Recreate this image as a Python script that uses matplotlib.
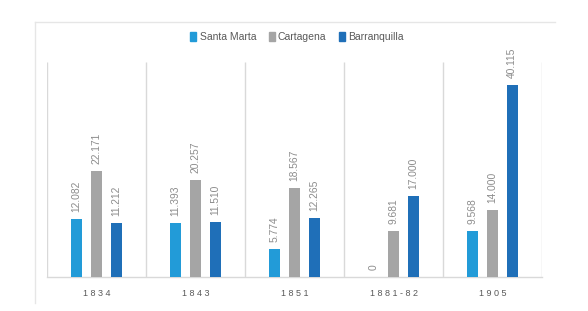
import numpy as np
import matplotlib.pyplot as plt
from matplotlib.lines import Line2D
from matplotlib.patches import Patch

# data
years = ["1834", "1843", "1851", "1881-82", "1905"]
santa_marta = [12082, 11393, 5774, 0, 9568]
cartagena = [22171, 20257, 18567, 9681, 14000]
barranquilla = [11212, 11510, 12265, 17000, 40115]

series = [("Santa Marta", santa_marta, "#229bd8"),
          ("Cartagena", cartagena, "#a5a5a5"),
          ("Barranquilla", barranquilla, "#1f6fb8")]

plt.rcParams['font.family'] = ['Liberation Sans', 'DejaVu Sans']

fig = plt.figure(figsize=(5.88, 3.11), dpi=100)
ax = fig.add_axes([47/588, 34/311, 495/588, 215/311])

x = np.arange(len(years))
width = 0.106
offsets = [-0.2, 0, 0.2]

for (name, vals, col), off in zip(series, offsets):
    bars = ax.bar(x + off, vals, width, color=col, label=name, zorder=3)
    for b, v in zip(bars, vals):
        lbl = f"{v:,}".replace(",", ".")
        ax.annotate(lbl, (b.get_x() + b.get_width()/2, b.get_height()),
                    xytext=(0, 5), textcoords="offset points",
                    rotation=90, ha="center", va="bottom",
                    fontsize=7.4, color="#8c8c8c")

ax.set_xlim(-0.5, len(years) - 0.5)
ax.set_ylim(0, 45000)

# category separators
grid_col = "#d9d9d9"
ax.vlines(np.arange(len(years) + 1) - 0.5, 0, 45000, color=grid_col, lw=1, zorder=1)
for s in ["top", "left", "right"]:
    ax.spines[s].set_visible(False)
ax.spines["bottom"].set_color(grid_col)
ax.spines["bottom"].set_linewidth(1)

ax.set_yticks([])
ax.set_xticks(x)
ax.set_xticklabels([" ".join(y) for y in years], fontsize=6.5, color="#595959")
ax.tick_params(axis="x", length=0, pad=9)

# legend
handles = [Patch(color=c, label=n) for n, _, c in series]
fig.legend(handles=handles, loc="center", bbox_to_anchor=(297/588, 1 - 37/311),
           ncol=3, frameon=False, fontsize=7.5, handlelength=0.6, handleheight=1.0,
           handletextpad=0.3, columnspacing=1.2, labelcolor="#595959")

# chart area border (top + left)
bc = "#e6e6e6"
fig.add_artist(Line2D([35/588, 555/588], [1 - 21.5/311, 1 - 21.5/311], color=bc, lw=1))
fig.add_artist(Line2D([35/588, 35/588], [1 - 21.5/311, 1 - 303/311], color=bc, lw=1))

fig.savefig("out.png", dpi=100)
